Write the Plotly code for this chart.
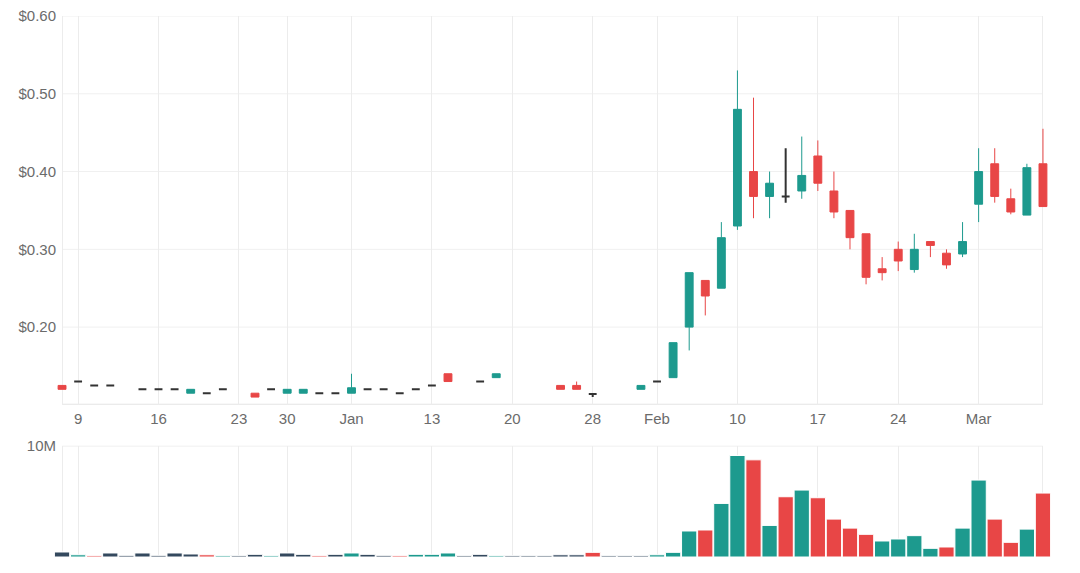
import plotly.graph_objects as go

# ---------------- data ----------------
dates = [
    "2024-12-06", "2024-12-09", "2024-12-10", "2024-12-11", "2024-12-12", "2024-12-13",
    "2024-12-16", "2024-12-17", "2024-12-18", "2024-12-19", "2024-12-20",
    "2024-12-23", "2024-12-24", "2024-12-27",
    "2024-12-30", "2024-12-31", "2025-01-02", "2025-01-03",
    "2025-01-06", "2025-01-07", "2025-01-08", "2025-01-09", "2025-01-10",
    "2025-01-13", "2025-01-14", "2025-01-15", "2025-01-16", "2025-01-17",
    "2025-01-20", "2025-01-21", "2025-01-22", "2025-01-23", "2025-01-24",
    "2025-01-28", "2025-01-29", "2025-01-30", "2025-01-31",
    "2025-02-03", "2025-02-04", "2025-02-05", "2025-02-06", "2025-02-07",
    "2025-02-10", "2025-02-11", "2025-02-12", "2025-02-13", "2025-02-14",
    "2025-02-17", "2025-02-18", "2025-02-19", "2025-02-20", "2025-02-21",
    "2025-02-24", "2025-02-25", "2025-02-26", "2025-02-27", "2025-02-28",
    "2025-03-03", "2025-03-04", "2025-03-05", "2025-03-06", "2025-03-07",
]

N = None
open_ = [0.125, 0.13, 0.125, 0.125, N, 0.12, 0.12, 0.12, 0.115, 0.115, 0.12,
         N, 0.115, 0.12, 0.115, 0.115, 0.115, 0.115, 0.115, 0.12, 0.12, 0.115, 0.12,
         0.125, 0.14, N, 0.13, 0.135, N, N, N, 0.125, 0.125, 0.114, N, N, 0.12,
         0.13, 0.135, 0.20, 0.26, 0.25, 0.33, 0.40, 0.368, 0.368, 0.375, 0.42,
         0.375, 0.35, 0.32, 0.275, 0.30, 0.274, 0.31, 0.295, 0.294, 0.358, 0.41,
         0.365, 0.344, 0.41]
high = [0.125, 0.13, 0.125, 0.125, N, 0.12, 0.12, 0.12, 0.12, 0.115, 0.12,
        N, 0.115, 0.12, 0.12, 0.12, 0.115, 0.115, 0.14, 0.12, 0.12, 0.115, 0.12,
        0.125, 0.14, N, 0.13, 0.14, N, N, N, 0.125, 0.13, 0.114, N, N, 0.125,
        0.13, 0.18, 0.27, 0.26, 0.335, 0.53, 0.495, 0.40, 0.43, 0.445, 0.44,
        0.40, 0.35, 0.32, 0.29, 0.31, 0.32, 0.31, 0.30, 0.335, 0.43, 0.43,
        0.378, 0.41, 0.455]
low = [0.12, 0.13, 0.125, 0.125, N, 0.12, 0.12, 0.12, 0.115, 0.115, 0.12,
       N, 0.11, 0.12, 0.115, 0.115, 0.115, 0.115, 0.115, 0.12, 0.12, 0.115, 0.12,
       0.125, 0.13, N, 0.13, 0.135, N, N, N, 0.12, 0.12, 0.11, N, N, 0.12,
       0.13, 0.135, 0.17, 0.215, 0.25, 0.325, 0.34, 0.34, 0.36, 0.365, 0.375,
       0.34, 0.30, 0.255, 0.26, 0.272, 0.27, 0.29, 0.275, 0.29, 0.335, 0.36,
       0.345, 0.344, 0.355]
close = [0.12, 0.13, 0.125, 0.125, N, 0.12, 0.12, 0.12, 0.12, 0.115, 0.12,
         N, 0.11, 0.12, 0.12, 0.12, 0.115, 0.115, 0.122, 0.12, 0.12, 0.115, 0.12,
         0.125, 0.13, N, 0.13, 0.14, N, N, N, 0.12, 0.12, 0.114, N, N, 0.125,
         0.13, 0.18, 0.27, 0.24, 0.315, 0.48, 0.368, 0.385, 0.368, 0.395, 0.385,
         0.348, 0.315, 0.264, 0.27, 0.285, 0.30, 0.305, 0.28, 0.31, 0.40, 0.368,
         0.348, 0.405, 0.355]

volume = [0.45e6, 0.2e6, 0.12e6, 0.36e6, 0.15e6, 0.36e6, 0.15e6, 0.36e6, 0.27e6, 0.2e6,
          0.12e6, 0.12e6, 0.24e6, 0.12e6, 0.36e6, 0.24e6, 0.12e6, 0.24e6, 0.36e6, 0.24e6,
          0.15e6, 0.12e6, 0.24e6, 0.24e6, 0.36e6, 0.12e6, 0.24e6, 0.12e6, 0.12e6, 0.12e6,
          0.12e6, 0.2e6, 0.2e6, 0.42e6, 0.12e6, 0.12e6, 0.12e6, 0.2e6, 0.42e6, 2.34e6,
          2.43e6, 4.82e6, 9.13e6, 8.74e6, 2.84e6, 5.42e6, 6.02e6, 5.33e6, 3.41e6, 2.60e6,
          2.04e6, 1.44e6, 1.62e6, 1.92e6, 0.78e6, 0.90e6, 2.60e6, 6.92e6, 3.41e6, 1.32e6,
          2.51e6, 5.75e6]
# direction of close versus previous close: u = up, d = down, f = flat
vol_dir = [
    "f", "u", "d", "f", "f", "f", "f", "f", "f", "d", "u", "f", "f", "u", "f", "f",
    "d", "f", "u", "f", "f", "d", "u", "u", "u", "f", "f", "u", "f", "f", "f", "f",
    "f", "d", "f", "f", "f", "u", "u", "u", "d", "u", "u", "d", "u", "d", "u", "d",
    "d", "d", "d", "u", "u", "u", "u", "d", "u", "u", "d", "d", "u", "d"]

tick_idx = [0, 1, 6, 11, 14, 18, 23, 28, 33, 37, 42, 47, 52, 57, 61]
tick_labels = ["", "9", "16", "23", "30", "Jan", "13", "20", "28", "Feb",
               "10", "17", "24", "Mar", ""]
price_ticks = [0.20, 0.30, 0.40, 0.50, 0.60]
price_labels = ["$0.20", "$0.30", "$0.40", "$0.50", "$0.60"]

# ---------------- styles ----------------
UP = "#1d9a8e"
DOWN = "#e84646"
FLAT_C = "#333333"
FLAT_V = "#34495e"
GRID = "#ececec"
FONT = dict(family="Liberation Sans, Arial, sans-serif", size=15, color="#6b6b6b")

fig = go.Figure()


def subset(kind):
    xs, o, h, l, c = [], [], [], [], []
    for i, d in enumerate(dates):
        if open_[i] is None:
            continue
        if kind == "up" and close[i] > open_[i]:
            pass
        elif kind == "down" and close[i] < open_[i]:
            pass
        elif kind == "flat" and close[i] == open_[i]:
            pass
        else:
            continue
        xs.append(d); o.append(open_[i]); h.append(high[i]); l.append(low[i]); c.append(close[i])
    return xs, o, h, l, c


for kind, col, lw in [("up", UP, 1), ("down", DOWN, 1), ("flat", FLAT_C, 2)]:
    xs, o, h, l, c = subset(kind)
    fig.add_trace(go.Candlestick(
        x=xs, open=o, high=h, low=l, close=c,
        increasing=dict(line=dict(color=col, width=lw), fillcolor=col),
        decreasing=dict(line=dict(color=col, width=lw), fillcolor=col),
        showlegend=False, hoverinfo="skip", xaxis="x", yaxis="y",
    ))

cmap = {"u": UP, "d": DOWN, "f": FLAT_V}
fig.add_trace(go.Bar(
    x=dates, y=volume, marker=dict(color=[cmap[v] for v in vol_dir],
                                   line=dict(color="white", width=1)),
    showlegend=False, hoverinfo="skip", xaxis="x2", yaxis="y2",
))

n = len(dates)
tickvals = [dates[i] for i in tick_idx]
common_x = dict(type="category", categoryorder="array", categoryarray=dates,
                range=[-0.5, n - 0.5], showgrid=True, gridcolor=GRID, gridwidth=1,
                tickmode="array", tickvals=tickvals, zeroline=False, showline=False,
                fixedrange=True, automargin=False)

shapes = []
for v in price_ticks:
    shapes.append(dict(type="line", xref="x", yref="y", x0=0, x1=n - 1, y0=v, y1=v,
                       line=dict(color="#f0f0f0", width=1), layer="below"))
shapes.append(dict(type="line", xref="x", yref="y", x0=0, x1=n - 1, y0=0.10, y1=0.10,
                   line=dict(color="#e4e4e4", width=2), layer="below"))
shapes.append(dict(type="line", xref="x2", yref="y2", x0=0, x1=n - 1, y0=10e6, y1=10e6,
                   line=dict(color="#ececec", width=1.5), layer="below"))

fig.update_layout(
    width=1080, height=573,
    margin=dict(l=54, r=29, t=16, b=16),
    paper_bgcolor="white", plot_bgcolor="white",
    font=FONT,
    bargap=0.05,
    xaxis=dict(**common_x, domain=[0, 1], anchor="y", ticktext=tick_labels,
               rangeslider=dict(visible=False), tickfont=FONT, ticklabelstandoff=3),
    xaxis2=dict(**common_x, domain=[0, 1], anchor="y2", ticktext=[""] * len(tick_idx),
                showticklabels=False),
    yaxis=dict(domain=[0.2812, 1], range=[0.10, 0.60], tickmode="array",
               tickvals=price_ticks, ticktext=price_labels, showgrid=False,
               zeroline=False, showline=False, ticklabelstandoff=-3, tickfont=FONT,
               fixedrange=True, automargin=False),
    yaxis2=dict(domain=[0, 0.2055], range=[0, 10e6], tickmode="array",
                tickvals=[10e6], ticktext=["10M"], showgrid=False, zeroline=False,
                showline=False, ticklabelstandoff=-3, tickfont=FONT,
                fixedrange=True, automargin=False),
    shapes=shapes,
)

fig.write_html("out.html")
